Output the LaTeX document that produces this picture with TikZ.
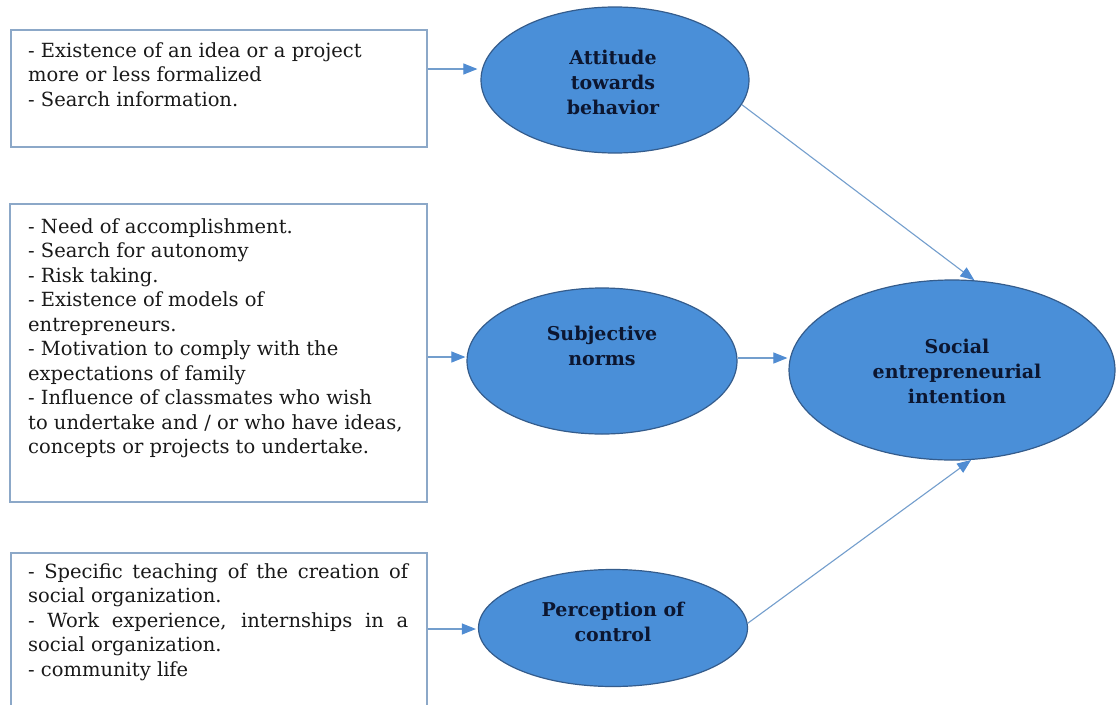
\documentclass[tikz,border=0pt]{standalone}
\usepackage{fontspec}
\setmainfont{DejaVu Serif}
\usetikzlibrary{shapes.geometric,arrows.meta}
\definecolor{efill}{RGB}{74,143,216}
\definecolor{edraw}{RGB}{52,92,140}
\definecolor{etxt}{RGB}{12,22,48}
\definecolor{bdraw}{RGB}{140,168,200}
\definecolor{adraw}{RGB}{115,158,205}
\definecolor{ahead}{RGB}{80,140,210}
\begin{document}
\begin{tikzpicture}[x=1pt,y=-1pt,
 box/.style={draw=bdraw,line width=1.3pt,rectangle,inner sep=0pt},
 ell/.style={ellipse,draw=edraw,fill=efill,line width=1.2pt,inner sep=0pt},
 etext/.style={font=\fontsize{19}{25}\selectfont\bfseries,text=etxt,align=center,inner sep=0pt},
 btext/.style={font=\fontsize{19.5}{24.5}\selectfont,text=black!90,anchor=base west,inner sep=0pt},
 arr/.style={draw=adraw,line width=1.1pt,-{Triangle[length=14pt,width=11pt,color=ahead]}}]
\useasboundingbox (0,0) rectangle (1118,704);
\clip (0,0) rectangle (1118,704);
\fill[white] (0,0) rectangle (1118,704);

% boxes
\node[box,minimum width=416pt,minimum height=117pt] (b1) at (219,88.5) {};
\node[box,minimum width=417pt,minimum height=298pt] (b2) at (218.5,353) {};
\node[box,minimum width=416pt,minimum height=170pt] (b3) at (219,638) {};

\node[btext] (t1) at (28,57) {\parbox[t]{400pt}{- Existence of an idea or a project\\
more or less formalized\\
- Search information.}};

\node[btext] (t2) at (28,233) {\parbox[t]{400pt}{- Need of accomplishment.\\
- Search for autonomy\\
- Risk taking.\\
- Existence of models of\\
entrepreneurs.\\
- Motivation to comply with the\\
expectations of family\\
- Influence of classmates who wish\\
to undertake and / or who have ideas,\\
concepts or projects to undertake.}};

\node[btext] (t3) at (28,578) {\parbox[t]{400pt}{\makebox[380pt][s]{- Specific teaching of the creation of}\\
social organization.\\
\makebox[380pt][s]{- Work experience, internships in a}\\
social organization.\\
- community life}};

% ellipses
\node[ell,minimum width=268pt,minimum height=146pt] (att) at (615,80) {};
\node[ell,minimum width=270pt,minimum height=146pt] (subj) at (602,361) {};
\node[ell,minimum width=269pt,minimum height=117pt] (perc) at (613,628) {};
\node[ell,minimum width=326pt,minimum height=180pt] (soc) at (952,370) {};

\node[etext] (att-t) at (613,82) {Attitude\\towards\\behavior};
\node[etext] (subj-t) at (602,346) {Subjective\\norms};
\node[etext] (perc-t) at (613,622) {Perception of\\control};
\node[etext] (soc-t) at (957,371) {Social\\entrepreneurial\\intention};

% connectors
\coordinate (y1) at (0,69);
\coordinate (y2) at (0,357);
\coordinate (y3) at (0,629);
\coordinate (y4) at (0,358);
\draw[arr] (b1.east |- y1) -- ([xshift=-3pt]att.west |- y1);
\draw[arr] (b2.east |- y2) -- ([xshift=-1pt]subj.west |- y2);
\draw[arr] (b3.east |- y3) -- ([xshift=-2pt]perc.west |- y3);
\draw[arr] (subj.east |- y4) -- ([xshift=-1pt]soc.west |- y4);
\draw[arr] (att.-11.6) -- (soc.76.9);
\draw[arr] (perc.2.5) -- (soc.-78.7);
\end{tikzpicture}
\end{document}
